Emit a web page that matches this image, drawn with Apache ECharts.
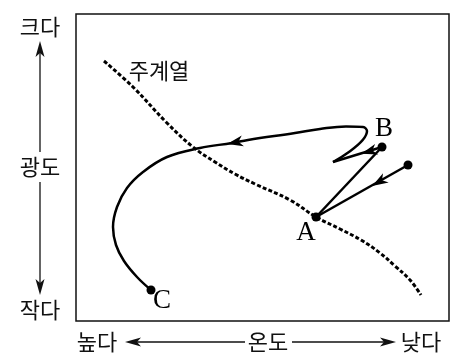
<!DOCTYPE html>
<html>
<head>
<meta charset="utf-8">
<title>주계열</title>
<script src="https://cdn.jsdelivr.net/npm/echarts@6/dist/echarts.min.js"></script>
<style>
html, body {margin: 0; padding: 0; background: #fff;}
#main {width: 456px; height: 356px;}
</style>
</head>
<body>
<div id="main"></div>
<script>
// 주계열 (점선)
var mainSeqX = [28, 57, 91, 117, 139, 159, 179, 214, 240, 264, 285, 304, 319, 334, 345];
var mainSeqY = [260, 234, 198, 174, 159, 147, 137, 121, 104, 92, 81, 68, 55, 41, 26];

// 진화 경로 조각
var trackToA = [[332, 156], [240, 104]];
var trackAtoB = [[240, 104], [306, 174]];
var trackBtoTip = [[306, 174], [257, 159]];
var trackToC = [[257, 159], [291, 190], [287, 194], [270, 194.5], [244, 192], [219, 188], [172, 181],
    [156, 178], [124, 173], [91, 164], [67, 149], [51, 133], [41, 114], [37, 94], [40, 76],
    [48, 60], [61, 44], [75, 31]];

// 화살표 (뒤, 앞)
var arrowMarks = [
    [[308, 142], [298, 136]],
    [[298, 171], [288, 168]],
    [[164, 179.5], [154, 177.5]]
];

// 점과 이름
var dotNames = ['A', 'B', '', 'C'];
var dotPoints = [[240, 104], [306, 174], [332, 156], [75, 31]];
var labelOffsets = [[-10, 16], [2, -18], [0, 0], [11, 11]];

var myChart = echarts.init(document.getElementById('main'));

var lineStyle = {color: '#000', width: 2.5};
function seg(data, smooth) {
    return {
        type: 'line', data: data, smooth: smooth || false, symbol: 'none',
        lineStyle: lineStyle, silent: true
    };
}

var cjk = '"Noto Sans CJK KR", sans-serif';
function txt(s, x, y) {
    return {type: 'text', x: x, y: y,
        style: {text: s, font: '22px ' + cjk, fill: '#111', textAlign: 'center', textVerticalAlign: 'middle'}};
}
function head(pts) {
    return {type: 'polygon', shape: {points: pts}, style: {fill: '#111'}};
}
function stick(x1, y1, x2, y2) {
    return {type: 'line', shape: {x1: x1, y1: y1, x2: x2, y2: y2}, style: {stroke: '#111', lineWidth: 1.3}};
}

var option = {
    animation: false,
    grid: {left: 76, top: 14, width: 373, height: 307, show: true, borderColor: '#111', borderWidth: 1.5},
    xAxis: {type: 'value', min: 0, max: 373, show: false},
    yAxis: {type: 'value', min: 0, max: 307, show: false},
    graphic: [
        txt('크다', 40, 27), txt('광도', 40, 167), txt('작다', 40, 310),
        txt('높다', 97, 342), txt('온도', 268, 342), txt('낮다', 421, 342),
        txt('주계열', 159, 71),
        stick(40, 52, 40, 152), head([[40, 41], [35.5, 57], [40, 53], [44.5, 57]]),
        stick(40, 182, 40, 284), head([[40, 295], [35.5, 279], [40, 283], [44.5, 279]]),
        stick(136, 342, 245, 342), head([[125, 342], [141, 337.5], [137, 342], [141, 346.5]]),
        stick(292, 342, 386, 342), head([[396, 342], [380, 337.5], [384, 342], [380, 346.5]])
    ],
    series: [
        {
            type: 'line', data: mainSeqX.map(function (x, i) { return [x, mainSeqY[i]]; }),
            smooth: 0.4, symbol: 'none', silent: true,
            lineStyle: {color: '#000', width: 3, type: [4, 2.2]}
        },
        seg(trackToA), seg(trackAtoB), seg(trackBtoTip), seg(trackToC, 0.4),
        {
            // 화살촉: 방향은 좌표에서 계산 (x, y 축 모두 1단위 = 1px)
            type: 'scatter', silent: true,
            symbol: 'path://M0,0 L16,5.5 L0,11 L4.5,5.5 Z', symbolSize: [16, 11],
            itemStyle: {color: '#000', opacity: 1},
            data: arrowMarks.map(function (c) {
                var dx = c[1][0] - c[0][0], dy = c[1][1] - c[0][1];
                return {
                    value: [(c[0][0] + c[1][0]) / 2, (c[0][1] + c[1][1]) / 2],
                    symbolRotate: Math.atan2(dy, dx) * 180 / Math.PI
                };
            })
        },
        {
            type: 'scatter', symbolSize: 9, silent: true,
            itemStyle: {color: '#000', opacity: 1},
            data: dotPoints.map(function (p, i) {
                return {
                    value: p,
                    label: {
                        show: dotNames[i] !== '', formatter: dotNames[i], position: 'inside',
                        offset: labelOffsets[i], color: '#000',
                        fontFamily: '"Liberation Serif", serif', fontSize: 27
                    }
                };
            })
        }
    ]
};

myChart.setOption(option);
</script>
</body>
</html>
